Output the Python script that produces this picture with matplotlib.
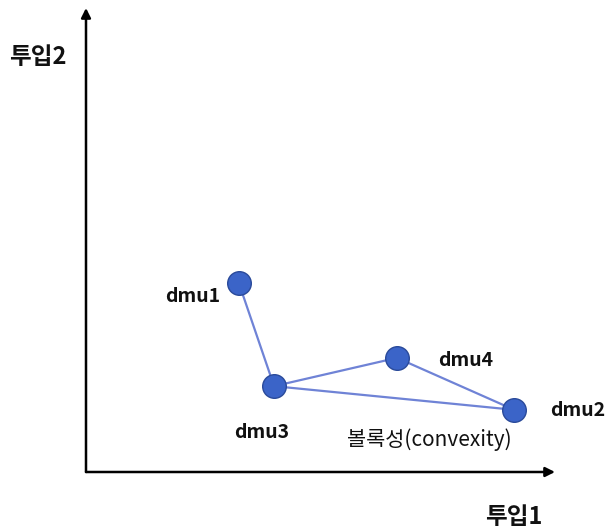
import matplotlib
matplotlib.use("Agg")
import matplotlib.pyplot as plt

plt.rcParams['font.family'] = ['Noto Sans CJK KR', 'DejaVu Sans']

# Data (diagram units: axes span 0..10)
names = ["dmu1", "dmu3", "dmu4", "dmu2"]
xs = [3.26, 4.01, 6.63, 9.13]
ys = [4.07, 1.85, 2.46, 1.34]
edges = [("dmu1", "dmu3"), ("dmu3", "dmu4"), ("dmu4", "dmu2"), ("dmu3", "dmu2")]

W, H = 606, 531
fig = plt.figure(figsize=(W / 100, H / 100), dpi=100)
ax = fig.add_axes([86 / W, (H - 472) / H, 469 / W, 464 / H])
ax.set_xlim(0, 10)
ax.set_ylim(0, 10)
ax.axis('off')

# axes arrows
ax.annotate("", xy=(10, 0), xytext=(0, 0), annotation_clip=False,
            arrowprops=dict(arrowstyle='-|>', color='black', lw=1.8,
                            mutation_scale=14, shrinkA=0, shrinkB=0))
ax.annotate("", xy=(0, 10), xytext=(0, 0), annotation_clip=False,
            arrowprops=dict(arrowstyle='-|>', color='black', lw=1.8,
                            mutation_scale=14, shrinkA=0, shrinkB=0))

idx = {n: i for i, n in enumerate(names)}
for a, b in edges:
    ax.plot([xs[idx[a]], xs[idx[b]]], [ys[idx[a]], ys[idx[b]]],
            color='#6f83d6', lw=1.6, zorder=2, solid_capstyle='round')

ax.plot(xs, ys, linestyle='none', marker='o', markersize=17,
        markerfacecolor='#3b64c8', markeredgecolor='#2a4a9a',
        markeredgewidth=1.0, zorder=3)

def ftext(px, py, s, size, weight='semibold', ha='center'):
    fig.text(px / W, 1 - py / H, s, fontsize=size, fontweight=weight,
             ha=ha, va='center', color='#111111')

ftext(193, 296, "dmu1", 14)
ftext(262, 433, "dmu3", 14)
ftext(466, 360, "dmu4", 14)
ftext(578, 410, "dmu2", 14)
ftext(429, 440, "볼록성(convexity)", 15, weight='normal')
ftext(38, 57, "투입2", 17, weight='bold')
ftext(514, 517, "투입1", 17, weight='bold')

fig.savefig("out.png", dpi=100)
